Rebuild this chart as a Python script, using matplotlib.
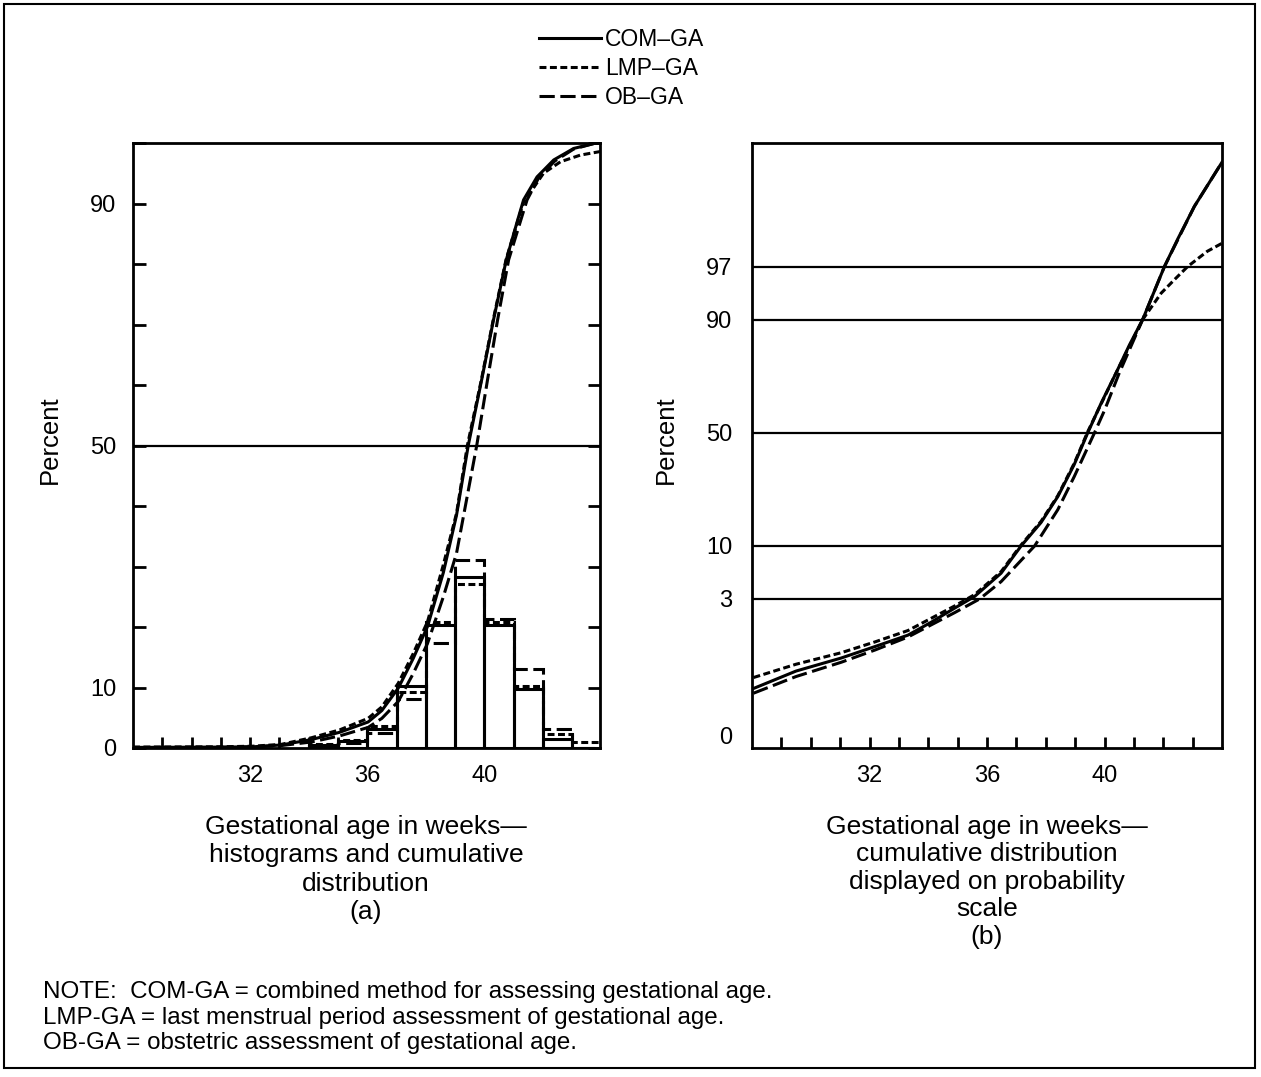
import math
import numpy as np
import matplotlib
matplotlib.use("Agg")
import matplotlib.pyplot as plt
from matplotlib.lines import Line2D
from matplotlib.patches import Rectangle

# ---------------- data ----------------
# x tick marks (weeks) and the few that carry a label
week_ticks = list(range(29, 44))
week_labels = ["32", "36", "40"]
week_label_pos = [32, 36, 40]

# (a) histograms, percent of births per week
hist_edges = [34, 35, 36, 37, 38, 39, 40, 41, 42, 43, 44]
hist_com = [0.5, 1.1, 3.2, 10.2, 20.3, 28.2, 20.3, 9.8, 1.5, 0.0]
hist_lmp = [0.7, 1.3, 3.6, 9.3, 20.9, 27.1, 20.8, 10.3, 2.3, 1.0]
hist_ob = [0.4, 0.8, 2.5, 8.1, 17.3, 31.1, 21.4, 13.0, 3.1, 0.0]

# (a) cumulative distributions, percent
cum_com_wk = [28.0, 31.0, 32.1, 33.06, 34.1, 35.06, 36.03, 36.5, 37.06, 37.57, 38.06, 38.6,
              39.05, 39.45, 39.91, 40.31, 40.75, 41.17, 41.34, 41.8, 42.37, 43.05, 43.73]
cum_com_pct = [0.1, 0.15, 0.2, 0.5, 1.4, 2.6, 4.3, 6.2, 9.9, 14.8, 20.1, 29.0,
               38.5, 50.0, 60.9, 70.7, 80.7, 87.8, 90.6, 94.4, 97.2, 99.1, 99.9]
cum_lmp_wk = [28.0, 31.0, 32.1, 33.06, 34.1, 35.06, 36.03, 36.5, 37.06, 37.57, 38.06, 38.6,
              39.05, 39.42, 39.9, 40.3, 40.74, 41.17, 41.34, 42.02, 42.6, 43.28, 43.97]
cum_lmp_pct = [0.15, 0.2, 0.3, 0.6, 1.7, 3.0, 4.9, 6.8, 10.7, 15.6, 20.9, 30.3,
               38.8, 50.0, 60.9, 70.7, 80.7, 87.6, 90.2, 95.0, 96.9, 98.0, 98.6]
cum_ob_wk = [28.0, 31.0, 32.1, 33.06, 34.1, 35.06, 36.03, 36.5, 37.06, 37.57, 38.06, 38.6,
             39.05, 39.74, 40.11, 40.45, 40.83, 41.28, 41.46, 41.85, 42.4, 43.05, 43.73]
cum_ob_pct = [0.05, 0.1, 0.2, 0.4, 1.0, 2.0, 3.4, 4.9, 7.7, 12.3, 17.3, 25.0,
              32.2, 50.0, 60.9, 70.7, 80.7, 87.8, 90.6, 94.2, 97.0, 99.0, 99.9]

# (b) cumulative distributions on probability scale, percent
prob_com_wk = [28.05, 29.5, 31.04, 32.2, 33.31, 34.1, 34.9, 35.58, 36.48, 37.16, 37.84,
               38.41, 38.97, 39.43, 39.9, 40.39, 40.85, 41.3, 42.04, 42.5, 43.06, 44.0]
prob_com_pct = [0.19, 0.35, 0.54, 0.78, 1.10, 1.6, 2.36, 3.2, 5.6, 10.0, 15.5,
                23.5, 36.0, 50.0, 63.5, 75.0, 84.0, 90.0, 97.0, 98.6, 99.48, 99.89]
prob_lmp_wk = [28.05, 29.5, 31.04, 32.2, 33.31, 34.9, 35.58, 36.48, 37.16, 37.84, 38.41,
               38.97, 39.43, 40.39, 41.3, 41.93, 42.4, 42.83, 43.5, 44.0]
prob_lmp_pct = [0.28, 0.44, 0.64, 0.9, 1.26, 2.5, 3.35, 5.8, 10.2, 15.8, 23.8,
                36.5, 50.5, 75.0, 90.0, 94.3, 95.9, 97.0, 98.0, 98.4]
prob_ob_wk = [28.05, 29.5, 31.04, 32.2, 33.31, 34.9, 35.75, 36.48, 37.62, 38.41, 38.97,
              39.66, 40.0, 40.5, 41.3, 42.04, 43.06, 44.0]
prob_ob_pct = [0.16, 0.29, 0.47, 0.7, 1.04, 2.09, 3.0, 4.6, 10.0, 19.2, 31.0,
               50.0, 60.0, 75.0, 90.0, 97.0, 99.48, 99.89]

# reference levels
pct_ticks_a = list(range(0, 101, 10))
pct_labels_a = ["0", "10", "50", "90"]
prob_levels = [3, 10, 50, 90, 97]

series_names = ["COM\u2013GA", "LMP\u2013GA", "OB\u2013GA"]


################################################
# probability scale helpers
################################################

A = [-3.969683028665376e+01, 2.209460984245205e+02, -2.759285104469687e+02,
     1.383577518672690e+02, -3.066479806614716e+01, 2.506628277459239e+00]
B = [-5.447609879822406e+01, 1.615858368580409e+02, -1.556989798598866e+02,
     6.680131188771972e+01, -1.328068155288572e+01]
C = [-7.784894002430293e-03, -3.223964580411365e-01, -2.400758277161838e+00,
     -2.549732539343734e+00, 4.374664141464968e+00, 2.938163982698783e+00]
D = [7.784695709041462e-03, 3.224671290700398e-01, 2.445134137142996e+00,
     3.754408661907416e+00]


def _ppf(p):
	p = min(max(p, 1e-9), 1 - 1e-9)
	if p < 0.02425:
		q = math.sqrt(-2 * math.log(p))
		return (((((C[0]*q+C[1])*q+C[2])*q+C[3])*q+C[4])*q+C[5]) / ((((D[0]*q+D[1])*q+D[2])*q+D[3])*q+1)
	if p > 1 - 0.02425:
		q = math.sqrt(-2 * math.log(1 - p))
		return -(((((C[0]*q+C[1])*q+C[2])*q+C[3])*q+C[4])*q+C[5]) / ((((D[0]*q+D[1])*q+D[2])*q+D[3])*q+1)
	q = p - 0.5
	r = q * q
	return (((((A[0]*r+A[1])*r+A[2])*r+A[3])*r+A[4])*r+A[5])*q / (((((B[0]*r+B[1])*r+B[2])*r+B[3])*r+B[4])*r+1)


_ppf_v = np.vectorize(_ppf, otypes=[float])
_erf_v = np.vectorize(math.erf, otypes=[float])


def pct_to_z(pct):
	return _ppf_v(np.asarray(pct, dtype=float) / 100.0)


def z_to_pct(z):
	return 50.0 * (1 + _erf_v(np.asarray(z, dtype=float) / math.sqrt(2)))


################################################
# figure
################################################

plt.rcParams['font.family'] = ['Liberation Sans', 'DejaVu Sans']
plt.rcParams['lines.scale_dashes'] = False

lw = 2.2
short_dash = (0, (5, 2.5))
long_dash = (0, (11, 4))
styles = ["-", short_dash, long_dash]

W, H = 1261, 1077
fig = plt.figure(figsize=(W / 100, H / 100), dpi=100)

# outer frame
fig.patches.append(Rectangle((4 / W, 1 - 1068 / H), 1251 / W, 1064 / H, transform=fig.transFigure,
                             fill=False, edgecolor="black", linewidth=1.5))

# ---------------- panel (a) ----------------
axA = fig.add_axes([133 / W, 1 - 748 / H, 467 / W, 605 / H])
axA.bar(hist_edges[:-1], hist_com, width=1, align="edge", fill=False, edgecolor="black", linewidth=lw)
axA.stairs(hist_lmp, hist_edges, color="black", linewidth=lw, linestyle=short_dash)
axA.stairs(hist_ob, hist_edges, color="black", linewidth=lw, linestyle=long_dash)

axA.plot(cum_com_wk, cum_com_pct, color="black", linewidth=lw, linestyle="-")
axA.plot(cum_lmp_wk, cum_lmp_pct, color="black", linewidth=lw, linestyle=short_dash)
axA.plot(cum_ob_wk, cum_ob_pct, color="black", linewidth=lw, linestyle=long_dash)
axA.axhline(50, color="black", linewidth=1.6)

axA.set_xlim(28, 43.95)
axA.set_ylim(0, 100)
axA.set_yticks(pct_ticks_a)
axA.set_yticklabels([str(v) if str(v) in pct_labels_a else "" for v in pct_ticks_a])
axA.tick_params(axis="y", direction="in", left=True, right=True, length=9, width=2, pad=12, labelsize=17)
axA.set_ylabel("Percent", fontsize=18.5)
axA.yaxis.set_label_coords(-0.152, 0.51)

# ---------------- panel (b) ----------------
axB = fig.add_axes([752 / W, 1 - 748 / H, 470 / W, 605 / H])
axB.set_yscale("function", functions=(pct_to_z, z_to_pct))
axB.plot(prob_com_wk, prob_com_pct, color="black", linewidth=lw, linestyle="-")
axB.plot(prob_lmp_wk, prob_lmp_pct, color="black", linewidth=lw, linestyle=short_dash)
axB.plot(prob_ob_wk, prob_ob_pct, color="black", linewidth=lw, linestyle=long_dash)
for lev in prob_levels:
	axB.axhline(lev, color="black", linewidth=1.6)

ylo, yhi = 0.018, 99.948
axB.set_xlim(28, 44)
axB.set_ylim(ylo, yhi)
axB.set_yticks([0.03] + prob_levels)
axB.set_yticklabels(["0"] + [str(v) for v in prob_levels])
axB.yaxis.set_minor_locator(matplotlib.ticker.NullLocator())
axB.tick_params(axis="y", length=0, pad=14, labelsize=17)
axB.set_ylabel("Percent", fontsize=18.5)
axB.yaxis.set_label_coords(-0.157, 0.51)

for ax in (axA, axB):
	ax.set_xticks(week_ticks)
	ax.set_xticklabels([str(w) if w in week_label_pos else "" for w in week_ticks])
	ax.tick_params(axis="x", direction="in", length=8, width=2, pad=12, labelsize=17)
	for s in ax.spines.values():
		s.set_linewidth(2)

# captions under the panels
fig.text(366 / W, 1 - 815 / H, "Gestational age in weeks\u2014\nhistograms and cumulative\ndistribution\n(a)",
         ha="center", va="top", fontsize=19, linespacing=1.23)
fig.text(987 / W, 1 - 815 / H,
         "Gestational age in weeks\u2014\ncumulative distribution\ndisplayed on probability\nscale\n(b)",
         ha="center", va="top", fontsize=19, linespacing=1.18)

# legend at the top
handles = [Line2D([], [], color="black", linewidth=lw, linestyle=st) for st in styles]
fig.legend(handles, series_names, loc="upper left", bbox_to_anchor=(518 / W, 1 - 7 / H),
           frameon=False, fontsize=16.5, handlelength=2.7, handletextpad=0.2, labelspacing=0.28)

# footnote
fig.text(43 / W, 1 - 981 / H,
         "NOTE:  COM-GA = combined method for assessing gestational age.\n"
         "LMP-GA = last menstrual period assessment of gestational age.\n"
         "OB-GA = obstetric assessment of gestational age.",
         ha="left", va="top", fontsize=17.4, linespacing=1.21)

fig.savefig("out.png", dpi=100)
